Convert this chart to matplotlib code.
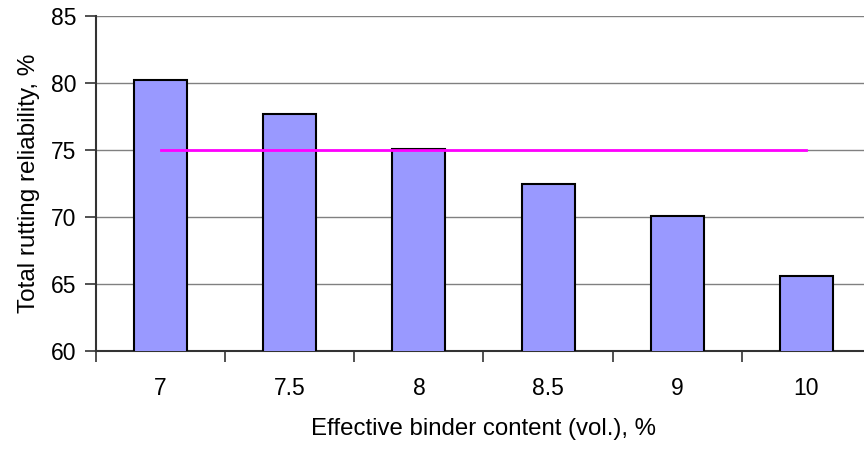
import matplotlib
matplotlib.use("Agg")
import matplotlib.pyplot as plt

binder = ["7", "7.5", "8", "8.5", "9", "10"]
reliability = [80.2, 77.7, 75.1, 72.5, 70.1, 65.6]
target = 75

plt.rcParams['font.family'] = ['Liberation Sans', 'DejaVu Sans']

fig = plt.figure(figsize=(8.64, 4.49), dpi=100)
ax = fig.add_axes([96/864, 98/449, 775/864, 335/449])

pos = list(range(len(binder)))
ax.bar(pos, reliability, width=0.41, color='#9999FF', edgecolor='black', linewidth=1.5, zorder=3)
ax.plot([pos[0], pos[-1]], [target, target], color='#FF00FF', lw=2, zorder=4)

ax.set_xlim(-0.5, len(binder) - 0.5)
ax.set_ylim(60, 85)
ax.set_yticks(range(60, 86, 5))
ax.yaxis.grid(True, color='#808080', lw=1)
ax.set_axisbelow(True)

ax.set_xticks([p - 0.5 for p in pos] + [pos[-1] + 0.5])
ax.set_xticklabels([])
ax.set_xticks(pos, minor=True)
ax.set_xticklabels(binder, minor=True)
ax.tick_params(axis='x', which='minor', length=0, pad=19, labelsize=16.5)
ax.tick_params(axis='x', which='major', length=8, width=1.2, color='#333333')
ax.tick_params(axis='y', length=8, width=1.2, color='#333333', labelsize=16.5, pad=6)

for s in ['top', 'right']:
    ax.spines[s].set_visible(False)
for s in ['left', 'bottom']:
    ax.spines[s].set_color('#333333')
    ax.spines[s].set_linewidth(1.5)

ax.set_xlabel('Effective binder content (vol.), %', fontsize=17.3, labelpad=13)
ax.set_ylabel('Total rutting reliability, %', fontsize=17.5, labelpad=8)

fig.savefig('out.png', dpi=100)
